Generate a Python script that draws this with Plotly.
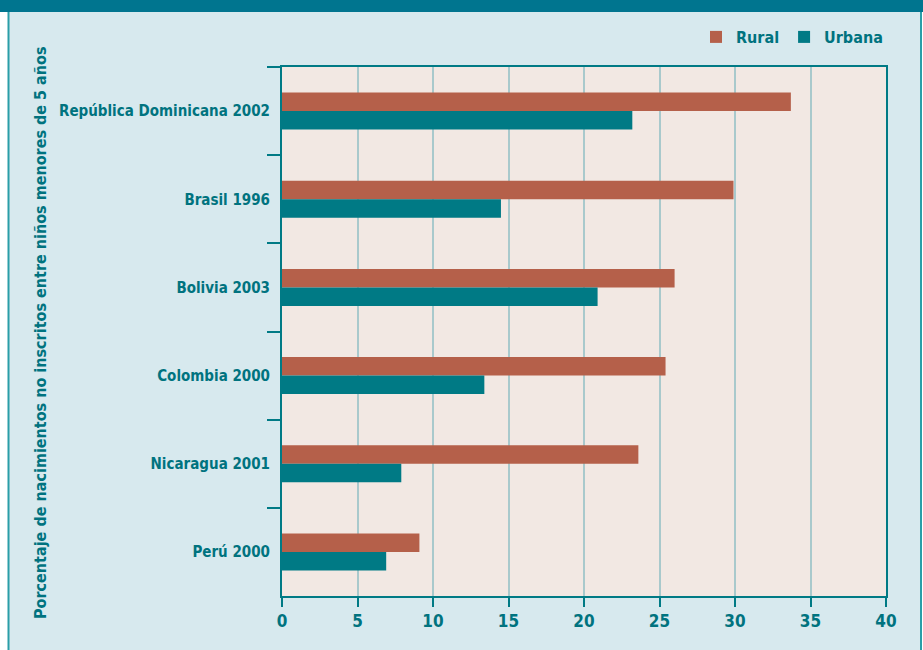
import plotly.graph_objects as go

categories = ["República Dominicana 2002", "Brasil 1996", "Bolivia 2003",
              "Colombia 2000", "Nicaragua 2001", "Perú 2000"]
rural = [33.7, 29.9, 26.0, 25.4, 23.6, 9.1]
urbana = [23.2, 14.5, 20.9, 13.4, 7.9, 6.9]
x_ticks = [0, 5, 10, 15, 20, 25, 30, 35, 40]
y_title = "Porcentaje de nacimientos no inscritos entre niños menores de 5 años"

W, H = 923, 650
L, R, T, B = 282, 37, 67, 54
PW, PH = W - L - R, H - T - B

def px(x):
    return (x - L) / PW

def py(y):
    return (H - B - y) / PH

TEXT = "#00737F"
TEAL = "#007A85"
RUST = "#B5604A"
FONT = "DejaVu Sans Condensed, Liberation Sans, sans-serif"

fig = go.Figure()
fig.add_trace(go.Bar(y=categories, x=rural, name="Rural", orientation="h",
                     marker=dict(color=RUST, line=dict(width=0))))
fig.add_trace(go.Bar(y=categories, x=urbana, name="Urbana", orientation="h",
                     marker=dict(color=TEAL, line=dict(width=0))))

shapes = [
    dict(type="rect", xref="paper", yref="paper", x0=px(-2), x1=px(8), y0=py(H + 2), y1=py(-2),
         fillcolor="white", line=dict(width=0), layer="below"),
    dict(type="rect", xref="paper", yref="paper", x0=px(921), x1=px(W + 2), y0=py(H + 2), y1=py(-2),
         fillcolor="white", line=dict(width=0), layer="below"),
    dict(type="line", xref="paper", yref="paper", x0=px(8.5), x1=px(8.5), y0=py(H + 2), y1=py(10),
         line=dict(color="#2A9EA8", width=2)),
    dict(type="line", xref="paper", yref="paper", x0=px(921), x1=px(921), y0=py(H + 2), y1=py(10),
         line=dict(color="#2A9EA8", width=2)),
    dict(type="rect", xref="paper", yref="paper", x0=px(-2), x1=px(W + 2), y0=py(12), y1=py(-2),
         fillcolor="#00758F", line=dict(width=0)),
]

fig.update_layout(
    width=W, height=H,
    margin=dict(l=L, r=R, t=T, b=B, pad=0, autoexpand=False),
    paper_bgcolor="#D7E9EE",
    plot_bgcolor="#F2E8E3",
    barmode="group", bargap=0.58, bargroupgap=0,
    font=dict(family=FONT, color=TEXT, size=15, weight="bold"),
    showlegend=True,
    legend=dict(orientation="h", x=px(888), xanchor="right", y=py(37), yanchor="middle",
                font=dict(family=FONT, size=16, color=TEXT, weight="bold"),
                bgcolor="rgba(0,0,0,0)", itemwidth=30, traceorder="normal"),
    shapes=shapes,
    annotations=[dict(text=y_title, xref="paper", yref="paper",
                      x=px(40), y=py(333), textangle=-90, showarrow=False,
                      font=dict(family=FONT, size=16, color=TEXT, weight="bold"),
                      xanchor="center", yanchor="middle")],
)

fig.update_xaxes(range=[0, 40], tickvals=x_ticks,
                 showgrid=True, gridcolor="#A9C9CC", gridwidth=2,
                 zeroline=False, showline=True, linecolor=TEAL, linewidth=2, mirror=True,
                 ticks="outside", ticklen=9, tickcolor=TEAL, tickwidth=2,
                 tickfont=dict(family=FONT, size=17, color=TEXT, weight="bold"))
fig.update_yaxes(categoryorder="array", categoryarray=categories, autorange="reversed",
                 tickson="boundaries", ticks="outside", ticklen=13, tickcolor=TEAL, tickwidth=2,
                 showgrid=False, showline=True, linecolor=TEAL, linewidth=2, mirror=True,
                 ticklabelstandoff=7,
                 tickfont=dict(family=FONT, size=15, color=TEXT, weight="bold"))

fig.write_html("out.html", config={"displayModeBar": False},
               post_script="document.body.style.margin='0';document.body.style.padding='0';")
